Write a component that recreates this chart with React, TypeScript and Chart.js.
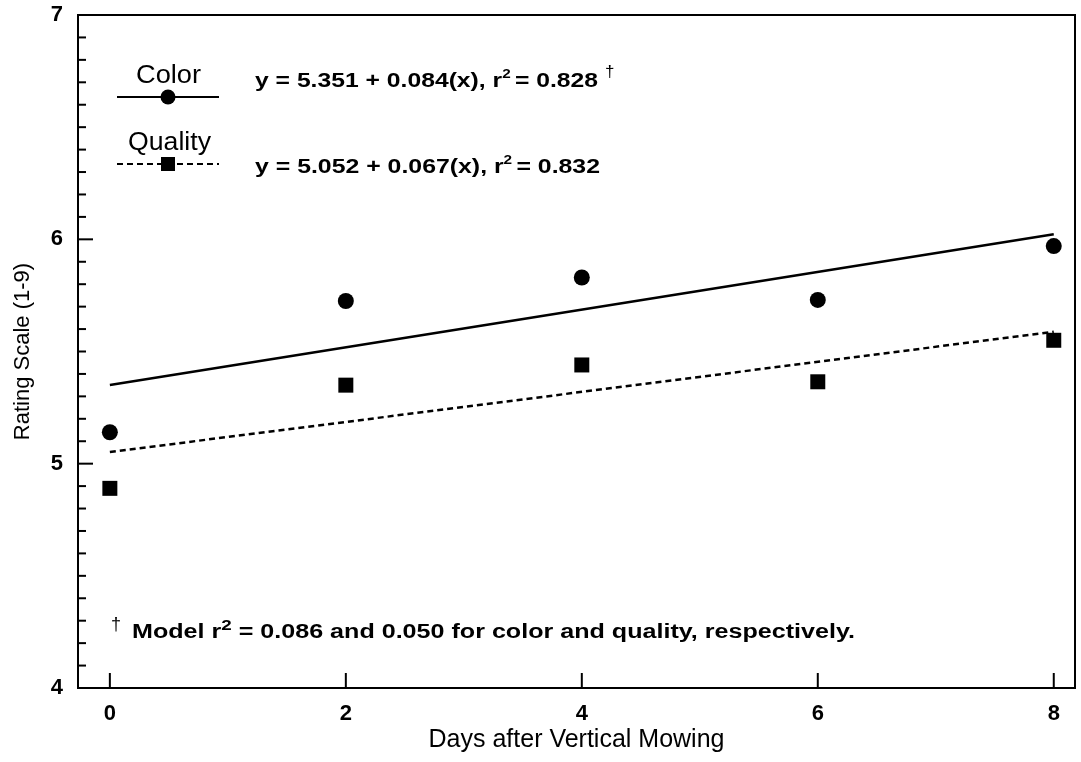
import React, { useEffect, useRef } from "react";
import { Chart, registerables } from "chart.js";

Chart.register(...registerables);

const FONT = "'Liberation Sans', Arial, Helvetica, sans-serif";

// ---- data ----
const days = [0, 2, 4, 6, 8];
const colorRatings = [5.14, 5.725, 5.83, 5.73, 5.97];
const qualityRatings = [4.89, 5.35, 5.44, 5.365, 5.55];
const fitDays = [0, 8];
const colorFit = [5.351, 6.023];
const qualityFit = [5.052, 5.588];
const xTickValues = [0, 2, 4, 6, 8];
const yTickValues = [4, 5, 6, 7];
const seriesLabels = ["Color", "Quality"];
const colorEquation = "y = 5.351 + 0.084(x), r";
const colorR2 = "= 0.828";
const qualityEquation = "y = 5.052 + 0.067(x), r";
const qualityR2 = "= 0.832";
const footnoteA = "Model r";
const footnoteB = " = 0.086 and 0.050 for color and quality, respectively.";

type Seg = { t: string; sup?: boolean };

function drawRich(
  ctx: CanvasRenderingContext2D,
  segs: Seg[],
  x: number,
  y: number,
  size: number,
  weight: string,
  supSize: number,
  supRise: number,
  targetW?: number
) {
  const font = (s: number) => `${weight} ${s}px ${FONT}`;
  let w = 0;
  for (const s of segs) {
    ctx.font = font(s.sup ? supSize : size);
    w += ctx.measureText(s.t).width;
  }
  const sx = targetW ? targetW / w : 1;
  ctx.save();
  ctx.translate(x, y);
  ctx.scale(sx, 1);
  ctx.textAlign = "left";
  ctx.textBaseline = "alphabetic";
  ctx.fillStyle = "#000";
  let cx = 0;
  for (const s of segs) {
    ctx.font = font(s.sup ? supSize : size);
    ctx.fillText(s.t, cx, s.sup ? -supRise : 0);
    cx += ctx.measureText(s.t).width;
  }
  ctx.restore();
}

const decorPlugin = {
  id: "decor",
  afterDraw(chart: any) {
    const ctx: CanvasRenderingContext2D = chart.ctx;
    const { left, right, top, bottom } = chart.chartArea;
    const xs = chart.scales.x;
    const ys = chart.scales.y;
    ctx.save();
    ctx.strokeStyle = "#000";
    ctx.fillStyle = "#000";
    // frame
    ctx.lineWidth = 2;
    ctx.strokeRect(left, top, right - left, bottom - top);
    // y ticks (inward)
    for (let i = 0; i <= 30; i++) {
      const v = 4 + i * 0.1;
      const py = ys.getPixelForValue(v);
      const len = i % 10 === 0 ? 15 : 8;
      ctx.beginPath();
      ctx.moveTo(left, py);
      ctx.lineTo(left + len, py);
      ctx.stroke();
    }
    // x ticks (inward)
    for (const v of xTickValues) {
      const px = xs.getPixelForValue(v);
      ctx.beginPath();
      ctx.moveTo(px, bottom);
      ctx.lineTo(px, bottom - 15);
      ctx.stroke();
    }

    // legend
    ctx.lineWidth = 2;
    ctx.setLineDash([]);
    ctx.beginPath();
    ctx.moveTo(117, 97);
    ctx.lineTo(219, 97);
    ctx.stroke();
    ctx.beginPath();
    ctx.arc(168, 97, 7.5, 0, Math.PI * 2);
    ctx.fill();
    ctx.setLineDash([6, 4]);
    ctx.beginPath();
    ctx.moveTo(117, 164);
    ctx.lineTo(219, 164);
    ctx.stroke();
    ctx.setLineDash([]);
    ctx.fillRect(161, 157, 14, 14);

    drawRich(ctx, [{ t: seriesLabels[0] }], 136, 83, 25, "normal", 12, 0, 65);
    drawRich(ctx, [{ t: seriesLabels[1] }], 128, 150, 25, "normal", 12, 0, 83);

    // equations
    drawRich(
      ctx,
      [{ t: colorEquation }, { t: "2 ", sup: true }, { t: colorR2 }],
      255,
      87,
      21,
      "bold",
      13,
      9,
      343
    );
    ctx.font = `normal 17px ${FONT}`;
    ctx.textAlign = "left";
    ctx.textBaseline = "alphabetic";
    ctx.fillText("\u2020", 605, 77);
    drawRich(
      ctx,
      [{ t: qualityEquation }, { t: "2 ", sup: true }, { t: qualityR2 }],
      255,
      173,
      21,
      "bold",
      13,
      9,
      345
    );

    // footnote
    ctx.font = `normal 18px ${FONT}`;
    ctx.fillText("\u2020", 111, 630);
    drawRich(
      ctx,
      [{ t: footnoteA }, { t: "2", sup: true }, { t: footnoteB }],
      132,
      638,
      20,
      "bold",
      15,
      8,
      723
    );
    ctx.restore();
  },
};

function ChartView() {
  const ref = useRef<HTMLCanvasElement | null>(null);
  useEffect(() => {
    document.body.style.margin = "0";
    const canvas = ref.current;
    if (!canvas) return;
    const chart = new Chart(canvas, {
      type: "scatter",
      data: {
        datasets: [
          {
            label: "Color fit",
            data: fitDays.map((d, i) => ({ x: d, y: colorFit[i] })),
            showLine: true,
            borderColor: "#000",
            borderWidth: 2.5,
            pointRadius: 0,
          },
          {
            label: "Quality fit",
            data: fitDays.map((d, i) => ({ x: d, y: qualityFit[i] })),
            showLine: true,
            borderColor: "#000",
            borderWidth: 2.5,
            borderDash: [6, 4],
            pointRadius: 0,
          },
          {
            label: seriesLabels[0],
            data: days.map((d, i) => ({ x: d, y: colorRatings[i] })),
            pointStyle: "circle",
            pointRadius: 8,
            backgroundColor: "#000",
            borderColor: "#000",
            borderWidth: 0,
          },
          {
            label: seriesLabels[1],
            data: days.map((d, i) => ({ x: d, y: qualityRatings[i] })),
            pointStyle: "rect",
            pointRadius: 10.6,
            backgroundColor: "#000",
            borderColor: "#000",
            borderWidth: 0,
          },
        ],
      },
      options: {
        animation: false,
        responsive: false,
        maintainAspectRatio: false,
        layout: {
          autoPadding: false,
          padding: { top: 15, right: 6, left: 0, bottom: 0 },
        },
        plugins: {
          legend: { display: false },
          tooltip: { enabled: false },
        },
        scales: {
          x: {
            type: "linear",
            min: -0.27,
            max: 8.18,
            grid: { display: false, drawTicks: false },
            border: { display: false },
            afterBuildTicks: (s: any) => {
              s.ticks = xTickValues.map((v) => ({ value: v }));
            },
            afterFit: (s: any) => {
              s.height = 74;
              s.paddingLeft = 0;
              s.paddingRight = 0;
            },
            ticks: {
              color: "#000",
              font: { family: FONT, size: 22, weight: "bold" },
              padding: 13,
              maxRotation: 0,
              autoSkip: false,
            },
            title: {
              display: true,
              text: "Days after Vertical Mowing",
              color: "#000",
              font: { family: FONT, size: 25, weight: "normal" },
              padding: { top: 0, bottom: 7 },
            },
          },
          y: {
            type: "linear",
            min: 4,
            max: 7,
            grid: { display: false, drawTicks: false },
            border: { display: false },
            afterBuildTicks: (s: any) => {
              s.ticks = yTickValues.map((v) => ({ value: v }));
            },
            afterFit: (s: any) => {
              s.width = 78;
              s.paddingTop = 0;
              s.paddingBottom = 0;
            },
            ticks: {
              color: "#000",
              font: { family: FONT, size: 22, weight: "bold" },
              padding: 15,
              autoSkip: false,
            },
            title: {
              display: true,
              text: "Rating Scale (1-9)",
              color: "#000",
              font: { family: FONT, size: 22, weight: "normal" },
              padding: { top: 10, bottom: 0 },
            },
          },
        },
      },
      plugins: [decorPlugin],
    } as any);
    return () => chart.destroy();
  }, []);
  return (
    <canvas
      ref={ref}
      width={1081}
      height={762}
      style={{ display: "block", width: 1081, height: 762 }}
    />
  );
}

export default function App() {
  return <ChartView />;
}
